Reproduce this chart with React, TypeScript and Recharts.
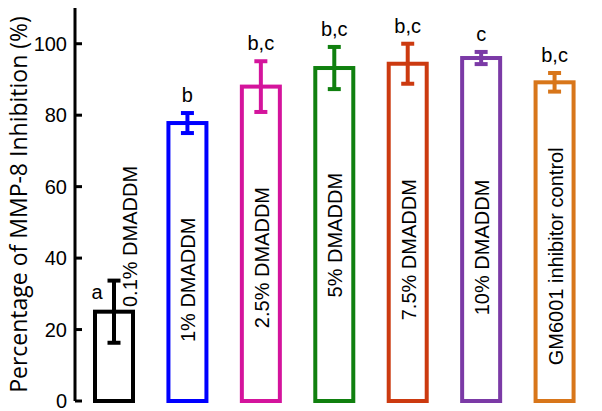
import React from "react";
import {
  Bar,
  BarChart,
  Cell,
  LabelList,
  XAxis,
  YAxis,
} from "recharts";

// chart values
const categories = [
  "0.1% DMADDM",
  "1% DMADDM",
  "2.5% DMADDM",
  "5% DMADDM",
  "7.5% DMADDM",
  "10% DMADDM",
  "GM6001 inhibitor control",
];
const inhibition = [25, 77.8, 88, 93.2, 94.4, 96, 89.2];
const errors = [8.7, 2.8, 7.1, 5.9, 5.6, 1.7, 2.6];
const letters = ["a", "b", "b,c", "b,c", "b,c", "c", "b,c"];
const yTicks = [0, 20, 40, 60, 80, 100];

// styling
const colors = ["#000000", "#0000ff", "#d4149c", "#10800f", "#cc3a10", "#7b3aa6", "#d8761a"];
// where each rotated label starts, in % units
const labelBase = [26.3, 16.5, 20.4, 29, 22.6, 24, 10];

const FONT = "'Liberation Sans', Arial, sans-serif";

const data = categories.map((name, i) => ({
  name,
  value: inhibition[i],
  err: errors[i],
  letter: letters[i],
}));

const OutlineBar = (props: any) => {
  const { x, y, width, height, index } = props;
  const color = colors[index];
  const ppu = height / inhibition[index];
  const cx = x + width / 2;
  const top = y - errors[index] * ppu;
  const bot = y + errors[index] * ppu;
  const cap = 6.5;
  return (
    <g>
      <rect x={x} y={y} width={width} height={height} fill="#fff" stroke={color} strokeWidth={4} />
      <line x1={cx} x2={cx} y1={top} y2={bot} stroke={color} strokeWidth={4} />
      <line x1={cx - cap} x2={cx + cap} y1={top} y2={top} stroke={color} strokeWidth={4} />
      <line x1={cx - cap} x2={cx + cap} y1={bot} y2={bot} stroke={color} strokeWidth={4} />
    </g>
  );
};

const LetterLabel = (props: any) => {
  const { x, y, width, height, index, value } = props;
  const ppu = height / inhibition[index];
  const cx = x + width / 2;
  const top = y - errors[index] * ppu;
  if (index === 0) {
    return (
      <text x={cx - 17} y={top + 18} textAnchor="middle" fontSize={20} fontFamily={FONT} fill="#000">
        {value}
      </text>
    );
  }
  return (
    <text x={cx} y={top - 11} textAnchor="middle" fontSize={20} fontFamily={FONT} fill="#000">
      {value}
    </text>
  );
};

const NameLabel = (props: any) => {
  const { x, y, width, height, index, value } = props;
  const ppu = height / inhibition[index];
  const cx = x + width / 2 + (index === 0 ? 16 : 1);
  const by = y + height - labelBase[index] * ppu;
  return (
    <text
      x={cx}
      y={by}
      transform={`rotate(-90 ${cx} ${by})`}
      textAnchor="start"
      dominantBaseline="central"
      fontSize={20}
      fontFamily={FONT}
      fill="#000"
    >
      {value}
    </text>
  );
};

export default function App() {
  return (
    <div style={{ position: "absolute", left: 0, top: 0, background: "#fff" }}>
      <BarChart
        width={602}
        height={411}
        data={data}
        margin={{ top: 8, right: 11, left: 0, bottom: 10 }}
        barSize={38}
      >
        <XAxis
          dataKey="name"
          xAxisId="bottom"
          height={0}
          tick={false}
          tickLine={false}
          padding={{ left: 2, right: 0 }}
          axisLine={{ stroke: "#000", strokeWidth: 3 }}
        />
        <XAxis
          dataKey="name"
          xAxisId="top"
          orientation="top"
          height={0}
          tick={false}
          tickLine={false}
          axisLine={{ stroke: "#000", strokeWidth: 3 }}
        />
        <YAxis
          yAxisId="left"
          width={75}
          domain={[0, 110]}
          ticks={yTicks}
          interval={0}
          tickSize={-7}
          tickMargin={15}
          axisLine={{ stroke: "#000", strokeWidth: 3 }}
          tickLine={{ stroke: "#000", strokeWidth: 3 }}
          tick={{ fill: "#000", fontSize: 20, fontFamily: FONT }}
          label={{
            value: "Percentage of MMP-8 Inhibition (%)",
            angle: -90,
            position: "insideLeft",
            offset: 19,
            style: { textAnchor: "middle", fontSize: 23, fontFamily: "'Open Sans', sans-serif", fill: "#000" },
          }}
        />
        <YAxis
          yAxisId="right"
          orientation="right"
          width={0}
          domain={[0, 110]}
          tick={false}
          tickLine={false}
          axisLine={{ stroke: "#000", strokeWidth: 3 }}
        />
        <Bar
          dataKey="value"
          xAxisId="bottom"
          yAxisId="left"
          shape={OutlineBar}
          isAnimationActive={false}
        >
          {data.map((d, i) => (
            <Cell key={d.name} fill={colors[i]} />
          ))}
          <LabelList dataKey="letter" content={LetterLabel} />
          <LabelList dataKey="name" content={NameLabel} />
        </Bar>
      </BarChart>
    </div>
  );
}
